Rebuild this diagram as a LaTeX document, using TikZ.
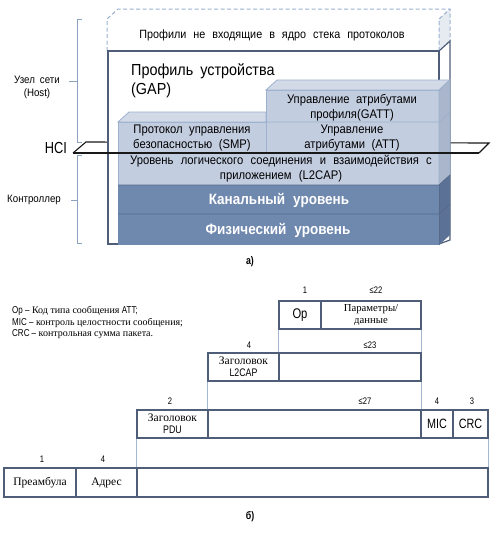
\documentclass[tikz,border=0pt]{standalone}
\usepackage{fontspec}
\setmainfont{Liberation Serif}
\newfontfamily\cond[FakeStretch=0.9]{Liberation Sans}
\newfontfamily\condn[FakeStretch=0.8]{Liberation Sans}
\newcommand\wordgap[1]{\spaceskip=#1\relax}
\definecolor{lightfront}{HTML}{C3CDE0}
\definecolor{lighttop}{HTML}{D2DAE8}
\definecolor{lightside}{HTML}{A9B6CB}
\definecolor{darkfront}{HTML}{6F88AE}
\definecolor{darkside}{HTML}{5B7195}
\definecolor{darkline}{HTML}{566A8C}
\definecolor{edgec}{HTML}{4E5E78}
\definecolor{pale}{HTML}{9DB1CE}
\definecolor{dashc}{HTML}{9AB0CF}
\definecolor{sidegrey}{HTML}{E6EBF2}
\definecolor{bracec}{HTML}{8DA2C0}
\definecolor{linkc}{HTML}{A3B6D2}
\tikzset{
  dashbox/.style={draw=dashc, line width=1pt, dash pattern=on 4pt off 2.5pt},
  hciline/.style={draw=black!90, line width=1.1pt},
  bracket/.style={draw=bracec, line width=0.8pt},
  txt/.style={inner sep=0pt, font=\cond\fontsize{12.5}{15}\selectfont\wordgap{6.5pt}, align=center},
  bigtxt/.style={inner sep=0pt, font=\cond\fontsize{16}{19}\selectfont\wordgap{7pt}, align=left},
  lvl/.style={inner sep=0pt, text=white, font=\cond\bfseries\fontsize{15}{17}\selectfont\wordgap{8pt}},
  sidetxt/.style={inner sep=0pt, font=\cond\fontsize{10.8}{13}\selectfont\wordgap{5pt}, align=center},
  cell/.style={draw=edgec, line width=1.2pt, inner sep=0pt, align=center, font=\fontsize{11.5}{12}\selectfont},
  numtxt/.style={inner sep=0pt, font=\condn\fontsize{9.5}{11}\selectfont},
  linkline/.style={draw=linkc, line width=0.8pt},
  legtxt/.style={inner sep=0pt, anchor=base west, font=\fontsize{10}{12}\selectfont},
  captxt/.style={inner sep=0pt, font=\condn\bfseries\fontsize{11}{13}\selectfont}
}
\begin{document}
\begin{tikzpicture}[x=1pt,y=-1pt]
\useasboundingbox (0,0) rectangle (500,533);
% ---------- part a ----------
\fill[sidegrey] (439,19)--(450,9)--(450,41)--(439,51)--cycle;
\draw[dashbox] (107,51)--(107,19)--(118,9)--(450,9)--(450,41);
\draw[dashbox] (439,51)--(439,19)--(450,9);
% HCI plane, back edge
\draw[hciline] (73,153)--(86,142)--(489,143)--(479,153);
% GAP box
\filldraw[fill=white, draw=edgec, line width=1.2pt] (439,51)--(450,41)--(450,240)--(439,244)--cycle;
\filldraw[fill=white, draw=edgec, line width=1.2pt] (108,51) rectangle (439,244);
% light block
\filldraw[fill=lightfront, draw=pale, line width=0.8pt] (118,185)--(118,122)--(266,122)--(266,90)--(439,90)--(439,185)--cycle;
\filldraw[fill=lighttop, draw=pale, line width=0.8pt] (118,122)--(129,112)--(266,112)--(266,122)--cycle;
\filldraw[fill=lighttop, draw=pale, line width=0.8pt] (266,90)--(277,80)--(450,80)--(439,90)--cycle;
\filldraw[fill=lightside, draw=pale, line width=0.8pt] (439,90)--(450,80)--(450,175)--(439,185)--cycle;
\draw[pale, line width=0.8pt] (266,122)--(439,122)--(450,112);
\draw[pale, line width=0.8pt] (266,90)--(266,153);
% dark blocks
\fill[darkfront] (118,185) rectangle (439,245);
\fill[darkside] (439,185)--(450,175)--(450,235)--(439,245)--cycle;
\draw[darkline, line width=0.8pt] (118,185)--(439,185)--(450,175);
\draw[darkline, line width=0.8pt] (118,214)--(439,214)--(450,204);
\draw[darkline, line width=0.6pt] (439,185)--(439,245);
% HCI plane, front edge
\draw[hciline] (73,153)--(479,153);
% brackets
\draw[bracket] (82,19)--(77,19)--(77,142)--(82,142);
\draw[bracket] (69,81)--(77,81);
\draw[bracket] (82,155)--(77,155)--(77,243)--(82,243);
\draw[bracket] (71,200)--(77,200);
% texts of part a
\node[txt, font=\cond\fontsize{12}{15}\selectfont\wordgap{7pt}] (ext) at (272,35) {Профили не входящие в ядро стека протоколов};
\node[bigtxt, anchor=west] (gap) at (131,81) {Профиль устройства\\(GAP)};
\node[txt] (gatt) at (352,107.5) {Управление атрибутами\\профиля(GATT)};
\node[txt] (att) at (352,137.5) {Управление\\атрибутами (ATT)};
\node[txt] (smp) at (192,137.5) {Протокол управления\\безопасностью (SMP)};
\node[txt, font=\cond\fontsize{12.5}{15}\selectfont\wordgap{7.3pt}] (l2cap) at (281,168.5) {Уровень логического соединения и взаимодействия с\\приложением (L2CAP)};
\node[lvl] (link) at (279,200) {Канальный уровень};
\node[lvl] (phy) at (278,230) {Физический уровень};
\node[inner sep=0pt, font=\condn\fontsize{16}{18}\selectfont] (hcit) at (56,148) {HCI};
\node[sidetxt] (host) at (37,87.5) {Узел сети\\(Host)};
\node[sidetxt] (ctrl) at (34,200) {Контроллер};
\node[captxt] (capa) at (250,262) {а)};
% ---------- part b ----------
\node[legtxt] (leg1) at (12,313.5) {{\condn Op –} Код типа сообщения {\condn ATT;}};
\node[legtxt] (leg2) at (12,325) {{\condn MIC –} контроль целостности сообщения;};
\node[legtxt] (leg3) at (12,336.5) {{\condn CRC –} контрольная сумма пакета.};
\node[cell, minimum width=42pt, minimum height=28pt, font=\condn\fontsize{14}{16}\selectfont] (op) at (300,315) {Op};
\node[cell, minimum width=100pt, minimum height=28pt, font=\fontsize{10.7}{12.5}\selectfont] (par) at (371,315) {Параметры/\\данные};
\node[cell, minimum width=71pt, minimum height=28pt] (l2h) at (243.5,367) {Заголовок\\{\condn\fontsize{11}{12}\selectfont L2CAP}};
\node[cell, minimum width=142pt, minimum height=28pt] (l2p) at (350,367) {};
\node[cell, minimum width=71pt, minimum height=28pt] (pduh) at (172.5,424) {Заголовок\\{\condn\fontsize{11}{12}\selectfont PDU}};
\node[cell, minimum width=213pt, minimum height=28pt] (pdup) at (314.5,424) {};
\node[cell, minimum width=32pt, minimum height=28pt, font=\condn\fontsize{13.5}{15}\selectfont] (mic) at (437,424) {MIC};
\node[cell, minimum width=35pt, minimum height=28pt, font=\condn\fontsize{13.5}{15}\selectfont] (crc) at (470.5,424) {CRC};
\node[cell, minimum width=72pt, minimum height=29pt] (pre) at (40,482.5) {Преамбула};
\node[cell, minimum width=61pt, minimum height=29pt] (adr) at (106.5,482.5) {Адрес};
\node[cell, minimum width=351pt, minimum height=29pt] (pkt) at (312.5,482.5) {};
\draw[linkline] (op.south west)--(l2p.north west);
\draw[linkline] (par.south east)--(l2p.north east);
\draw[linkline] (l2h.south west)--(pdup.north west);
\draw[linkline] (l2p.south east)--(pdup.north east);
\draw[linkline] (pduh.south west)--(pkt.north west);
\draw[linkline] (crc.south east)--(pkt.north east);
\node[numtxt] (n1) at (305,290) {1};
\node[numtxt] (n22) at (376,290) {≤22};
\node[numtxt] (n4a) at (249,345) {4};
\node[numtxt] (n23) at (370,345) {≤23};
\node[numtxt] (n2) at (170,401) {2};
\node[numtxt] (n27) at (365,401) {≤27};
\node[numtxt] (n4b) at (437,401) {4};
\node[numtxt] (n3) at (472,401) {3};
\node[numtxt] (n1b) at (42,459) {1};
\node[numtxt] (n4c) at (103,459) {4};
\node[captxt] (capb) at (250,517) {б)};
\end{tikzpicture}
\end{document}
